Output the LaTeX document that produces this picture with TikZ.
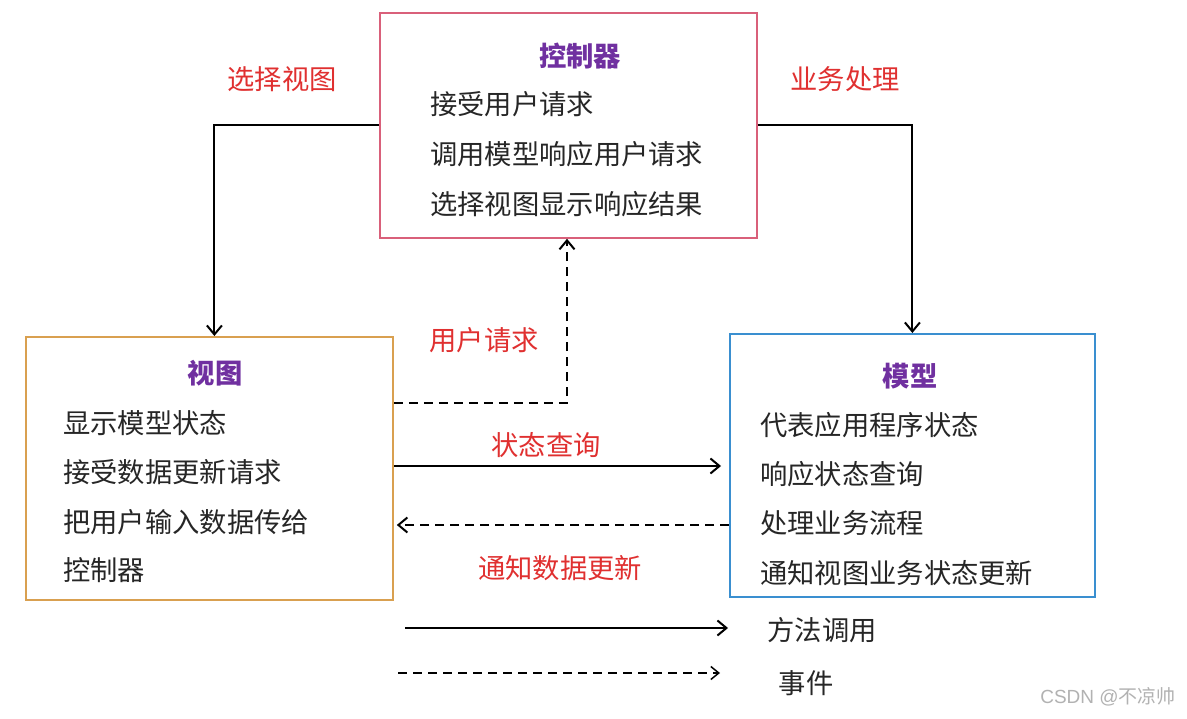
\documentclass[tikz,border=0pt]{standalone}
\usepackage{fontspec}
\setmainfont{Noto Sans CJK SC}
\newfontfamily\wmfont{Liberation Sans}
\usetikzlibrary{arrows.meta,calc}
\definecolor{pinkb}{HTML}{D9607A}
\definecolor{orangeb}{HTML}{D9A050}
\definecolor{blueb}{HTML}{3A8FD0}
\definecolor{titlec}{HTML}{7030A0}
\definecolor{labc}{HTML}{E03030}
\begin{document}
\begin{tikzpicture}[x=1pt,y=-1pt,
  box/.style={draw,line width=1.8pt,inner sep=0pt,anchor=north west},
  ttl/.style={font=\fontsize{27.3}{30}\selectfont\bfseries,text=titlec,inner sep=0pt},
  txt/.style={font=\fontsize{27.3}{30}\selectfont,text=black!85,anchor=west,inner sep=0pt},
  lab/.style={font=\fontsize{27.3}{30}\selectfont,text=labc,inner sep=0pt},
  conn/.style={line width=2pt,-{Straight Barb[length=9pt,width=15pt,line width=2pt]}},
  dconn/.style={conn,dash pattern=on 9pt off 6pt}]
\useasboundingbox (0,0) rectangle (1187,719);
\fill[white] (0,0) rectangle (1187,719);
% boxes
\node[box,draw=pinkb,minimum width=377pt,minimum height=225pt] (ctrl) at (379,12) {};
\node[box,draw=orangeb,minimum width=367pt,minimum height=263pt] (view) at (25,336) {};
\node[box,draw=blueb,minimum width=365pt,minimum height=263pt] (model) at (729,333) {};
% controller text
\node[ttl] (ct) at (580,56) {控制器};
\node[txt] (c1) at (430,104) {接受用户请求};
\node[txt] (c2) at (430,154) {调用模型响应用户请求};
\node[txt] (c3) at (430,204) {选择视图显示响应结果};
% view text
\node[ttl] (vt) at (215,373) {视图};
\node[txt] (v1) at (63,423) {显示模型状态};
\node[txt] (v2) at (63,472) {接受数据更新请求};
\node[txt] (v3) at (63,522) {把用户输入数据传给};
\node[txt] (v4) at (63,570) {控制器};
% model text
\node[ttl] (mt) at (910,376) {模型};
\node[txt] (m1) at (760,425) {代表应用程序状态};
\node[txt] (m2) at (760,474) {响应状态查询};
\node[txt] (m3) at (760,523) {处理业务流程};
\node[txt] (m4) at (760,573) {通知视图业务状态更新};
% connectors
\draw[conn] (ctrl.west) -| ($(view.north)+(5,0)$);
\node[lab] (l1) at (282,79) {选择视图};
\draw[conn] (ctrl.east) -| (model.north);
\node[lab] (l2) at (845,79) {业务处理};
\coordinate (ureq) at (567,403);
\draw[dconn] (view.east |- ureq) -- (ureq) -- (ctrl.south -| ureq);
\node[lab] (l3) at (484,340) {用户请求};
\coordinate (sq) at (0,466);
\draw[conn] (view.east |- sq) -- ($(model.west |- sq)+(-8,0)$);
\node[lab] (l4) at (546,445) {状态查询};
\coordinate (nd) at (0,525);
\draw[dconn] (model.west |- nd) -- ($(view.east |- nd)+(3,0)$);
\node[lab] (l5) at (560,568) {通知数据更新};
% legend
\coordinate (la1) at (405,628);
\coordinate (la2) at (728,628);
\draw[conn] (la1) -- (la2);
\node[font=\fontsize{27.3}{30}\selectfont,text=black!85,inner sep=0pt] (lg1) at (822,630) {方法调用};
\coordinate (lb1) at (398,673);
\coordinate (lb2) at (720,673);
\draw[dconn,-{Straight Barb[length=8pt,width=13pt,line width=1.5pt]}] (lb1) -- (lb2);
\node[font=\fontsize{27.3}{30}\selectfont,text=black!85,inner sep=0pt] (lg2) at (806,683) {事件};
\node[font=\fontsize{19}{22}\selectfont,text=black!30,inner sep=0pt] (wm) at (1108,697) {\wmfont CSDN @\fontspec{Noto Sans CJK SC}不凉帅};
\end{tikzpicture}
\end{document}
